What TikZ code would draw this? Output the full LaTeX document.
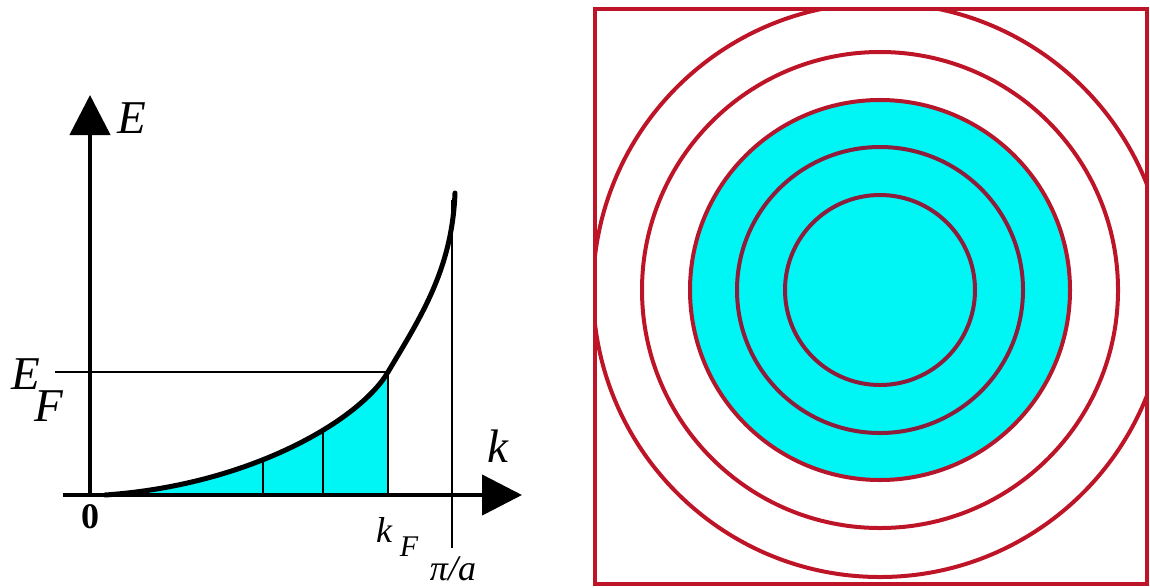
\documentclass[tikz,border=0pt]{standalone}
\usepackage{fontspec}
\setmainfont{Liberation Serif}
\usetikzlibrary{arrows.meta}
\definecolor{fillcyan}{RGB}{0,245,245}
\definecolor{ringdark}{RGB}{140,30,60}
\definecolor{ringred}{RGB}{190,20,40}
\tikzset{
  axis/.style={line width=4.5pt,-{Triangle[length=40pt,width=40pt]}},
  thinline/.style={line width=2pt,black},
  curveline/.style={line width=5pt,black,line cap=round},
  lbl/.style={inner sep=0pt,font=\fontsize{47}{50}\selectfont\itshape},
  smalllbl/.style={inner sep=0pt,font=\fontsize{36}{40}\selectfont\itshape},
  ring/.style={line width=4pt},
}
\begin{document}
\begin{tikzpicture}[x=1pt,y=-1pt]
\useasboundingbox (0,0) rectangle (1150,587);
% curve end points
\coordinate (c0) at (105,495);
\coordinate (c5) at (388,372);
\coordinate (c9) at (455,193);
\coordinate (c3) at (263,460);
\coordinate (c4) at (323,430);
% fill under curve
\begin{scope}
  \clip (0,0) rectangle (388,495);
  \fill[fillcyan] (c0) .. controls (250,485) and (360,420) .. (c5)
        .. controls (420,318) and (452,270) .. (c9) -- (455,495) -- cycle;
\end{scope}
% vertical lines under curve
\coordinate (b3) at (263,495);
\coordinate (b4) at (323,495);
\coordinate (b5) at (388,495);
\draw[thinline] (b3) -- (c3);
\draw[thinline] (b4) -- (c4);
\draw[thinline] (b5) -- (c5);
% pi/a line
\coordinate (pt) at (452,200);
\coordinate (pb) at (452,548);
\draw[thinline] (pt) -- (pb);
% E_F line
\coordinate (ef) at (55,372);
\draw[thinline] (ef) -- (c5);
% curve
\draw[curveline] (c0) .. controls (250,485) and (360,420) .. (c5)
        .. controls (420,318) and (452,270) .. (c9);
% axes
\coordinate (xs) at (63,495);
\coordinate (xe) at (522,495);
\coordinate (ys) at (90,497);
\coordinate (ye) at (90,95);
\draw[axis] (xs) -- (xe);
\draw[axis] (ys) -- (ye);
% labels
\node[lbl,anchor=west] (El) at (117,118) {E};
\node[lbl,anchor=base] (kl) at (498,462) {k};
\node[inner sep=0pt,font=\fontsize{36}{40}\selectfont\bfseries,anchor=base] (zero) at (90,528) {0};
\node[lbl,anchor=base] (EFE) at (26,389) {E};
\node[lbl,anchor=base] (EFF) at (49,421) {F};
\node[smalllbl,anchor=base] (kFk) at (384,542) {k};
\node[inner sep=0pt,font=\fontsize{30}{34}\selectfont\itshape,anchor=base] (kFF) at (409,556) {F};
\node[inner sep=0pt,font=\fontsize{36}{40}\selectfont\itshape,anchor=base] (pia) at (453,580) {π/a};
% right panel
\coordinate (sq1) at (595,9);
\coordinate (sq2) at (1147,584);
\coordinate (cc) at (880,290);
\fill[fillcyan] (cc) circle[radius=190];
\begin{scope}
  \clip (sq1) rectangle (sq2);
  \draw[ring,ringdark] (cc) circle[radius=95];
  \draw[ring,ringdark] (cc) circle[radius=143];
  \draw[ring,ringred!80!ringdark] (cc) circle[radius=190];
  \draw[ring,ringred] (cc) circle[radius=238];
  \draw[ring,ringred] (cc) circle[radius=287];
\end{scope}
\draw[ring,ringred] (sq1) rectangle (sq2);
\end{tikzpicture}
\end{document}
